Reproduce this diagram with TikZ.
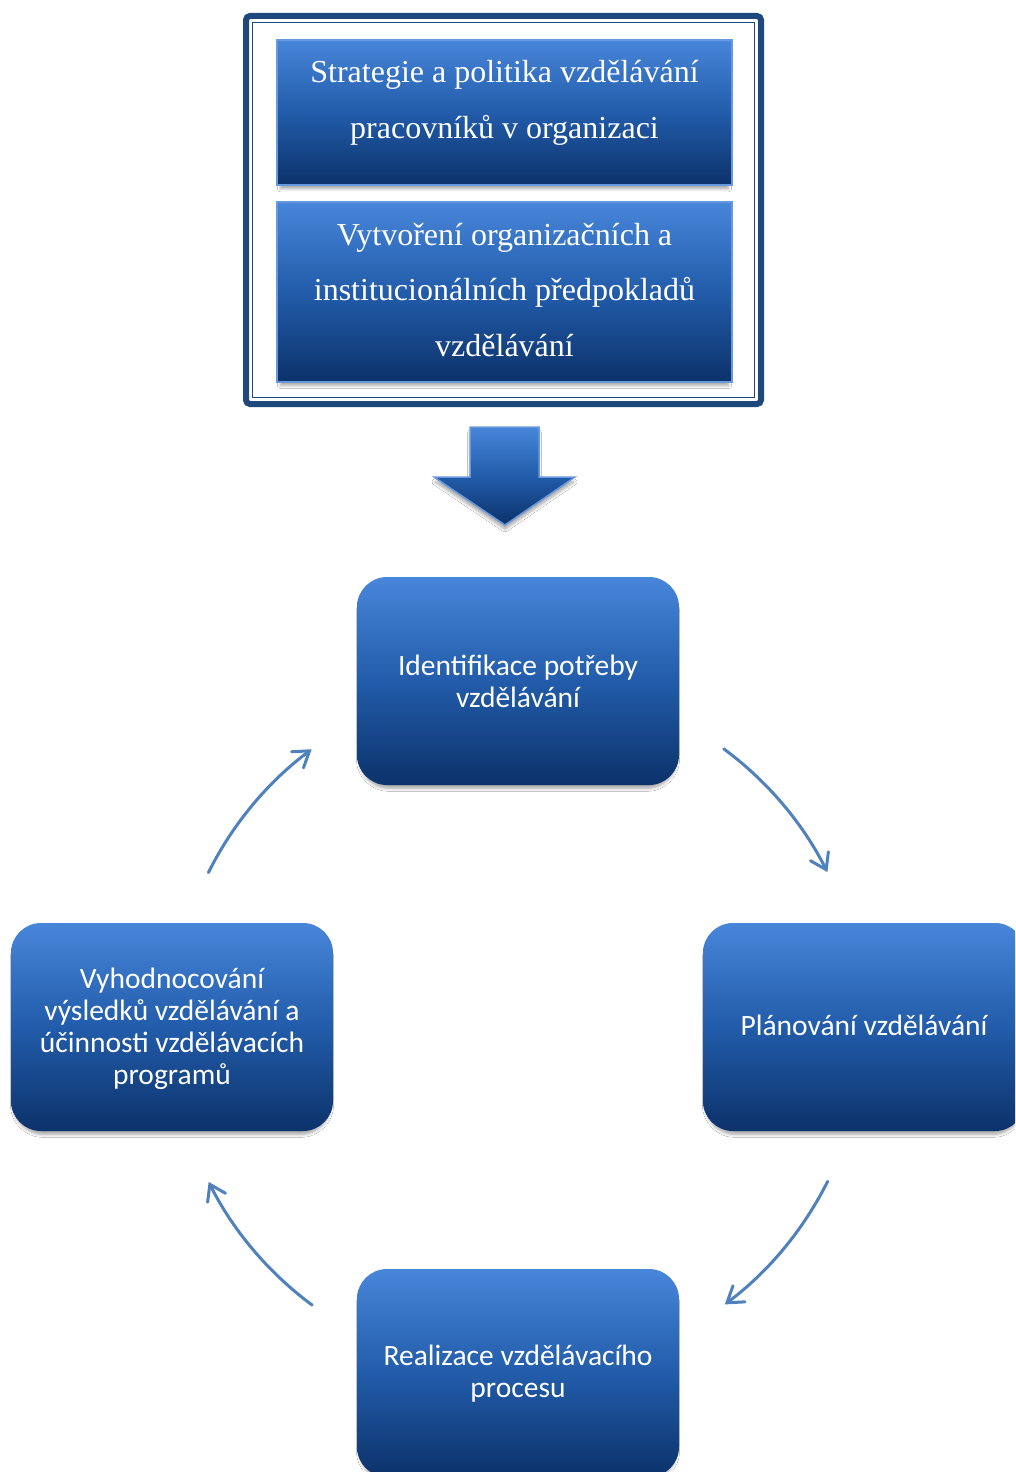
\documentclass[tikz,border=0pt]{standalone}
\usepackage{fontspec}
\setmainfont{Liberation Serif}
\newfontfamily\calib{Carlito}
\usetikzlibrary{arrows.meta,shadows.blur,calc}
\definecolor{topc}{RGB}{72,134,218}
\definecolor{midc}{RGB}{34,92,170}
\definecolor{botc}{RGB}{12,50,106}
\definecolor{framec}{RGB}{31,73,125}
\definecolor{edgec}{RGB}{104,152,222}
\definecolor{arrc}{RGB}{79,129,189}
\begin{document}
\begin{tikzpicture}[x=1pt,y=-1pt,
  grad/.style={top color=topc, bottom color=botc, middle color=midc},
  shad/.style={blur shadow={shadow xshift=0pt, shadow yshift=-5pt, shadow scale=0.985, shadow opacity=35, shadow blur steps=6, shadow blur radius=3pt}},
  cycbox/.style={grad, shad, rounded corners=30pt, minimum width=322pt, minimum height=208pt, inner sep=0pt},
  topbox/.style={grad, shad, draw=edgec, line width=1.5pt, minimum width=455pt, inner sep=0pt},
  sanst/.style={font=\calib\fontsize{29.5}{32}\selectfont, text=white, align=center, anchor=base, inner sep=0pt},
  serift/.style={font=\fontsize{32}{55.5}\selectfont, text=white, align=center, anchor=base, inner sep=0pt},
  cyc/.style={draw=arrc, line width=3pt, line cap=round, -{Straight Barb[length=15pt,width=20pt,line cap=round]}},
]
\useasboundingbox[fill=white] (0,0) rectangle (1015,1472);
\clip (0,0) rectangle (1015,1472);

% frame
\draw[framec, line width=6pt, rounded corners=4pt] (246,16) rectangle (761,404);
\draw[framec, line width=1.8pt] (252.5,22.5) rectangle (754.5,397.5);

% top boxes (text anchored at baseline of last line)
\node[topbox, minimum height=145pt] (b1) at (504.5,112.5) {};
\node[serift] (t1) at (504.5,138) {Strategie a politika vzdělávání\\pracovníků v organizaci};
\node[topbox, minimum height=180pt] (b2) at (504.5,292) {};
\node[serift] (t2) at (504.5,356) {Vytvoření organizačních a\\institucionálních předpokladů\\vzdělávání};

% big arrow
\coordinate (ba) at (504.5,427);
\path[grad, draw=edgec, line width=1.5pt, shad]
  ($(ba)+(-34.5,0)$) -- ($(ba)+(34.5,0)$) -- ($(ba)+(34.5,50)$) -- ($(ba)+(70.5,50)$)
  -- ($(ba)+(0.5,98)$) -- ($(ba)+(-70.5,50)$) -- ($(ba)+(-34.5,50)$) -- cycle;

% cycle boxes
\node[cycbox] (n1) at (518,681) {};
\node[sanst] (l1) at (518,707) {Identifikace potřeby\\vzdělávání};
\node[cycbox] (n2) at (864,1027) {};
\node[sanst] (l2) at (864,1035) {Plánování vzdělávání};
\node[cycbox] (n3) at (518,1373) {};
\node[sanst] (l3) at (518,1397) {Realizace vzdělávacího\\procesu};
\node[cycbox] (n4) at (172,1027) {};
\node[sanst] (l4) at (172,1084) {Vyhodnocování\\výsledků vzdělávání a\\účinnosti vzdělávacích\\programů};

% cycle arrows
\coordinate (ctr) at (518,1027);
\draw[cyc] ($(ctr)+(-53.5:346)$) arc[start angle=-53.5, end angle=-26.6, radius=346];
\draw[cyc] ($(ctr)+(26.5:346)$) arc[start angle=26.5, end angle=53.3, radius=346];
\draw[cyc] ($(ctr)+(126.5:346)$) arc[start angle=126.5, end angle=153.4, radius=346];
\draw[cyc] ($(ctr)+(206.5:346)$) arc[start angle=206.5, end angle=233.4, radius=346];
\end{tikzpicture}
\end{document}
